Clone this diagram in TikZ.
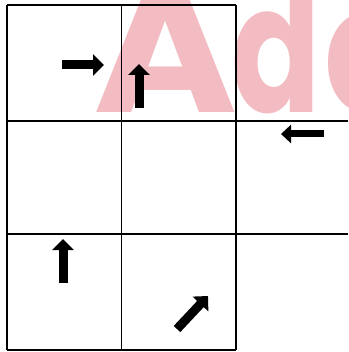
\documentclass[tikz,border=0pt]{standalone}
\usepackage{fontspec}
\newfontfamily\wmfont{Poppins}
\usetikzlibrary{arrows.meta}
\definecolor{wm}{RGB}{243,188,194}
\begin{document}
\begin{tikzpicture}[x=1pt,y=-1pt,
  gridline/.style={line width=1.4pt,black},
  thingrid/.style={line width=0.9pt,black},
  wmtext/.style={anchor=base west, inner sep=0, text=wm, font=\wmfont\bfseries\fontsize{178}{178}\selectfont},
  blockarrow/.style={line width=9pt,-{Triangle[length=11pt,width=21pt]}},
  smallarrow/.style={line width=7pt,-{Triangle[length=10pt,width=18pt]}}]
\useasboundingbox (0,0) rectangle (348,352);
\begin{scope}
\clip (0,0) rectangle (348,352);
\node[wmtext] (wmA) at (93,113) {\scalebox{1.1}[1]{A}};
\node[wmtext] (wmd) at (231,113) {\scalebox{0.74}[1]{d}};
\node[wmtext] (wmo) at (324,113) {\scalebox{0.8}[1]{o}};
\end{scope}
% grid
\draw[gridline] (7,5) -- (236,5);
\draw[gridline] (7,5) -- (7,350);
\draw[thingrid] (121,5) -- (121,350);
\draw[gridline] (236,5) -- (236,350);
\draw[gridline] (7,121) -- (348,121);
\draw[gridline] (7,234) -- (348,234);
\draw[gridline] (7,350) -- (236,350);
% arrows
\coordinate (a1s) at (62,65);  \coordinate (a1e) at (104,65);
\coordinate (a2s) at (139,108); \coordinate (a2e) at (139,64);
\coordinate (a3s) at (324,134); \coordinate (a3e) at (281,134);
\coordinate (a4s) at (63,283);  \coordinate (a4e) at (63,239);
\coordinate (a5s) at (177,329); \coordinate (a5e) at (208,296);
\draw[blockarrow] (a1s) -- (a1e);
\draw[blockarrow] (a2s) -- (a2e);
\draw[smallarrow] (a3s) -- (a3e);
\draw[blockarrow] (a4s) -- (a4e);
\draw[blockarrow] (a5s) -- (a5e);
\end{tikzpicture}
\end{document}
